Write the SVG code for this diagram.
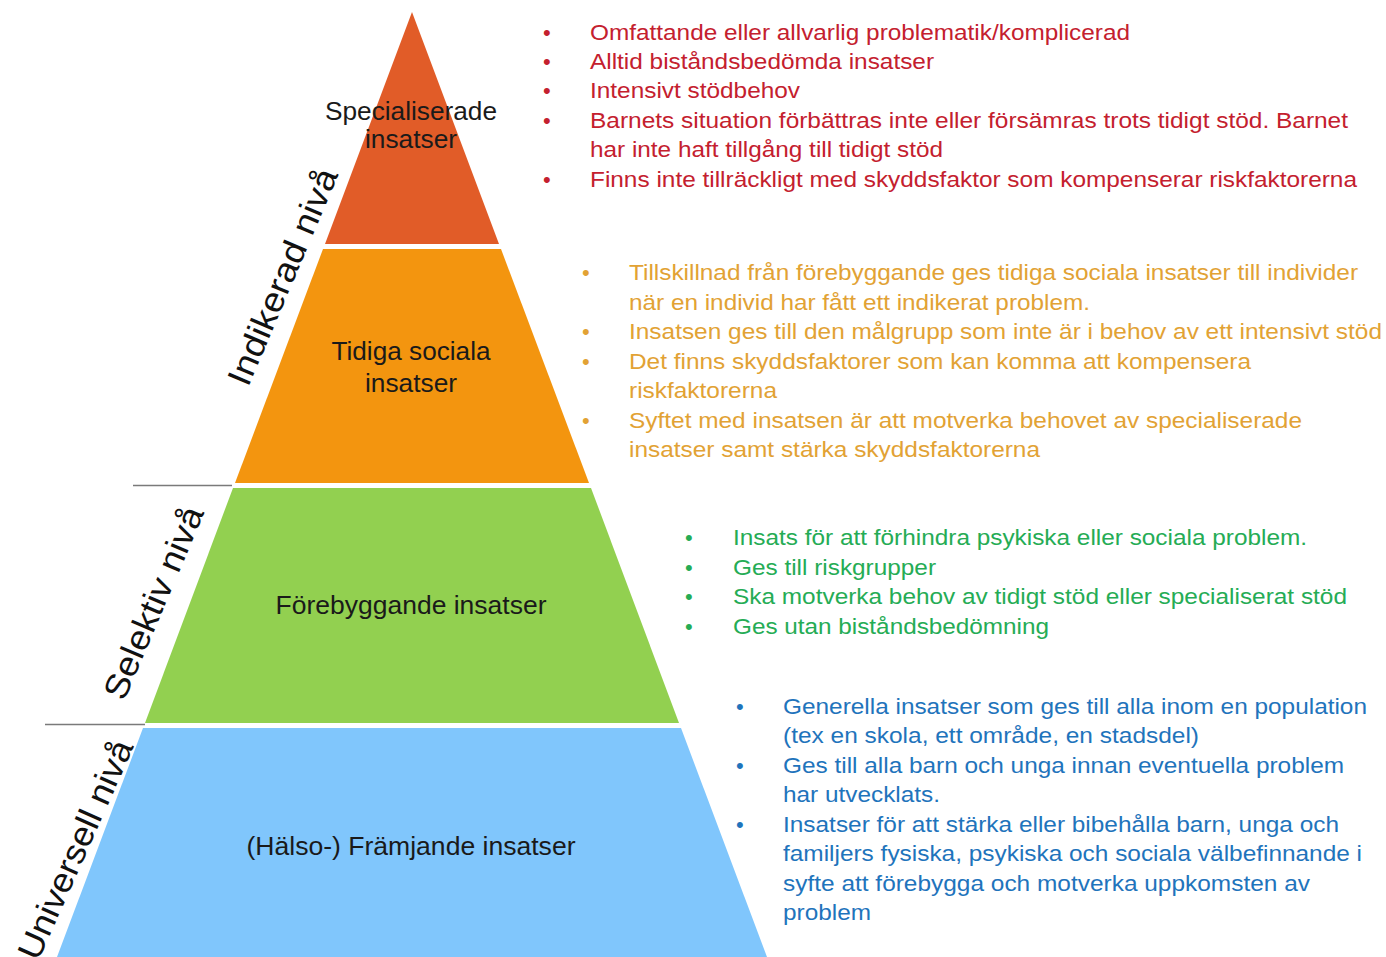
<svg xmlns="http://www.w3.org/2000/svg" width="1386" height="957" viewBox="0 0 1386 957">
<style>
text{font-family:"Liberation Sans",Arial,sans-serif}
.lbl{font-size:26px;fill:#1a1a1a;text-anchor:middle}
.lvl{font-size:34px;fill:#111}
.r{font-size:22px;fill:#C4202E}
.o{font-size:22px;fill:#E2A234}
.g{font-size:22px;fill:#25AC55}
.b{font-size:22px;fill:#1F74BC}
.sep{stroke:#7a7a7a;stroke-width:1.5}
</style>
<rect width="1386" height="957" fill="#fff"/>
<g id="level-specialiserade">
<polygon points="412,12 499,244 325,244" fill="#E15C28"/>
<text class="lbl" x="411" y="120" textLength="172" lengthAdjust="spacingAndGlyphs">Specialiserade</text>
<text class="lbl" x="411" y="148" textLength="92" lengthAdjust="spacingAndGlyphs">insatser</text>
</g>
<g id="level-tidiga">
<polygon points="323,249 501,249 589,483 235,483" fill="#F3950F"/>
<text class="lbl" x="411" y="360" textLength="159" lengthAdjust="spacingAndGlyphs">Tidiga sociala</text>
<text class="lbl" x="411" y="392" textLength="92" lengthAdjust="spacingAndGlyphs">insatser</text>
</g>
<g id="level-forebyggande">
<polygon points="233,488 591,488 679,723 145,723" fill="#92D050"/>
<text class="lbl" x="411" y="614" textLength="271" lengthAdjust="spacingAndGlyphs">Förebyggande insatser</text>
</g>
<g id="level-framjande">
<polygon points="143,728 681,728 767,957 57,957" fill="#80C6FC"/>
<text class="lbl" x="411" y="855" textLength="329" lengthAdjust="spacingAndGlyphs">(Hälso-) Främjande insatser</text>
</g>
<g id="connectors">
<line class="sep" x1="133" y1="485.5" x2="232" y2="485.5"/>
<line class="sep" x1="45" y1="724.5" x2="145" y2="724.5"/>
</g>
<g id="axis-labels">
<text class="lvl" x="248" y="388" transform="rotate(-67 248 388)" textLength="232" lengthAdjust="spacingAndGlyphs">Indikerad nivå</text>
<text class="lvl" x="124" y="702" transform="rotate(-67 124 702)" textLength="206" lengthAdjust="spacingAndGlyphs">Selektiv nivå</text>
<text class="lvl" x="38" y="962" transform="rotate(-66 38 962)" textLength="236" lengthAdjust="spacingAndGlyphs">Universell nivå</text>
</g>
<g id="list-specialiserade">
<text class="r" x="543" y="40">•</text>
<text class="r" x="543" y="69">•</text>
<text class="r" x="543" y="98">•</text>
<text class="r" x="543" y="128">•</text>
<text class="r" x="543" y="187">•</text>
<text class="r" x="590" y="40" textLength="540" lengthAdjust="spacingAndGlyphs">Omfattande eller allvarlig problematik/komplicerad</text>
<text class="r" x="590" y="69" textLength="344" lengthAdjust="spacingAndGlyphs">Alltid biståndsbedömda insatser</text>
<text class="r" x="590" y="98" textLength="210" lengthAdjust="spacingAndGlyphs">Intensivt stödbehov</text>
<text class="r" x="590" y="128" textLength="758" lengthAdjust="spacingAndGlyphs">Barnets situation förbättras inte eller försämras trots tidigt stöd. Barnet</text>
<text class="r" x="590" y="157" textLength="353" lengthAdjust="spacingAndGlyphs">har inte haft tillgång till tidigt stöd</text>
<text class="r" x="590" y="187" textLength="767" lengthAdjust="spacingAndGlyphs">Finns inte tillräckligt med skyddsfaktor som kompenserar riskfaktorerna</text>
</g>
<g id="list-tidiga">
<text class="o" x="582" y="280">•</text>
<text class="o" x="582" y="339">•</text>
<text class="o" x="582" y="369">•</text>
<text class="o" x="582" y="428">•</text>
<text class="o" x="629" y="280" textLength="729" lengthAdjust="spacingAndGlyphs">Tillskillnad från förebyggande ges tidiga sociala insatser till individer</text>
<text class="o" x="629" y="310" textLength="461" lengthAdjust="spacingAndGlyphs">när en individ har fått ett indikerat problem.</text>
<text class="o" x="629" y="339" textLength="753" lengthAdjust="spacingAndGlyphs">Insatsen ges till den målgrupp som inte är i behov av ett intensivt stöd</text>
<text class="o" x="629" y="369" textLength="622" lengthAdjust="spacingAndGlyphs">Det finns skyddsfaktorer som kan komma att kompensera</text>
<text class="o" x="629" y="398" textLength="148" lengthAdjust="spacingAndGlyphs">riskfaktorerna</text>
<text class="o" x="629" y="428" textLength="673" lengthAdjust="spacingAndGlyphs">Syftet med insatsen är att motverka behovet av specialiserade</text>
<text class="o" x="629" y="457" textLength="411" lengthAdjust="spacingAndGlyphs">insatser samt stärka skyddsfaktorerna</text>
</g>
<g id="list-forebyggande">
<text class="g" x="685" y="545">•</text>
<text class="g" x="685" y="575">•</text>
<text class="g" x="685" y="604">•</text>
<text class="g" x="685" y="634">•</text>
<text class="g" x="733" y="545" textLength="574" lengthAdjust="spacingAndGlyphs">Insats för att förhindra psykiska eller sociala problem.</text>
<text class="g" x="733" y="575" textLength="203" lengthAdjust="spacingAndGlyphs">Ges till riskgrupper</text>
<text class="g" x="733" y="604" textLength="614" lengthAdjust="spacingAndGlyphs">Ska motverka behov av tidigt stöd eller specialiserat stöd</text>
<text class="g" x="733" y="634" textLength="316" lengthAdjust="spacingAndGlyphs">Ges utan biståndsbedömning</text>
</g>
<g id="list-framjande">
<text class="b" x="736" y="714">•</text>
<text class="b" x="736" y="773">•</text>
<text class="b" x="736" y="832">•</text>
<text class="b" x="783" y="714" textLength="584" lengthAdjust="spacingAndGlyphs">Generella insatser som ges till alla inom en population</text>
<text class="b" x="783" y="743" textLength="416" lengthAdjust="spacingAndGlyphs">(tex en skola, ett område, en stadsdel)</text>
<text class="b" x="783" y="773" textLength="561" lengthAdjust="spacingAndGlyphs">Ges till alla barn och unga innan eventuella problem</text>
<text class="b" x="783" y="802" textLength="157" lengthAdjust="spacingAndGlyphs">har utvecklats.</text>
<text class="b" x="783" y="832" textLength="556" lengthAdjust="spacingAndGlyphs">Insatser för att stärka eller bibehålla barn, unga och</text>
<text class="b" x="783" y="861" textLength="579" lengthAdjust="spacingAndGlyphs">familjers fysiska, psykiska och sociala välbefinnande i</text>
<text class="b" x="783" y="891" textLength="527" lengthAdjust="spacingAndGlyphs">syfte att förebygga och motverka uppkomsten av</text>
<text class="b" x="783" y="920" textLength="88" lengthAdjust="spacingAndGlyphs">problem</text>
</g>
</svg>
